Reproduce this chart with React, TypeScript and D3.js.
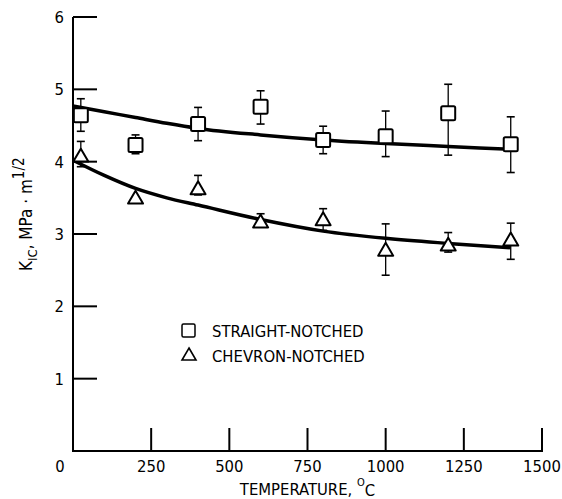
import React, { useRef, useEffect } from 'react';
import * as d3 from 'd3';

// measured points (temperature, C)
const temps = [25, 200, 400, 600, 800, 1000, 1200, 1400];
const straightK = [4.64, 4.23, 4.52, 4.76, 4.3, 4.35, 4.67, 4.24];
const straightHi = [4.87, 4.37, 4.75, 4.98, 4.49, 4.7, 5.07, 4.62];
const straightLo = [4.42, 4.11, 4.29, 4.52, 4.11, 4.07, 4.09, 3.85];
const chevronK = [4.09, 3.51, 3.64, 3.18, 3.21, 2.79, 2.86, 2.93];
const chevronHi = [4.28, 3.51, 3.81, 3.28, 3.35, 3.14, 3.02, 3.15];
const chevronLo = [3.93, 3.51, 3.54, 3.14, 3.05, 2.43, 2.75, 2.65];

// fitted curves
const fitTemps = [0, 100, 200, 300, 400, 600, 800, 1000, 1200, 1400];
const straightFit = [4.77, 4.69, 4.61, 4.53, 4.46, 4.37, 4.3, 4.25, 4.21, 4.17];
const chevronFit = [4.02, 3.81, 3.63, 3.5, 3.4, 3.2, 3.04, 2.94, 2.87, 2.81];

const xTicks = [0, 250, 500, 750, 1000, 1250, 1500];
const yTicks = [1, 2, 3, 4, 5, 6];
const legendLabels = ['STRAIGHT-NOTCHED', 'CHEVRON-NOTCHED'];

const FONT = "'DejaVu Sans Condensed', 'DejaVu Sans', sans-serif";

const App = () => {
  const svgRef = useRef(null);

  useEffect(() => {
    const w = 562;
    const h = 499;
    const svg = d3.select(svgRef.current).attr('width', w).attr('height', h);
    svg.selectAll('*').remove();

    const x = d3.scaleLinear().domain([0, 1500]).range([73, 542]);
    const y = d3.scaleLinear().domain([0, 6]).range([451, 17]);

    const g = svg
      .append('g')
      .style('font-family', FONT)
      .style('font-stretch', 'condensed')
      .style('font-size', '16.5px');

    // axes lines
    g.append('line')
      .attr('x1', x(0)).attr('x2', x(0))
      .attr('y1', y(6)).attr('y2', y(0))
      .attr('stroke', '#000').attr('stroke-width', 2);
    g.append('line')
      .attr('x1', x(0) - 1).attr('x2', x(1500) + 1)
      .attr('y1', y(0)).attr('y2', y(0))
      .attr('stroke', '#000').attr('stroke-width', 2);

    // y ticks (inward)
    g.selectAll('.ytick')
      .data(yTicks)
      .join('line')
      .attr('x1', x(0)).attr('x2', x(0) + 24)
      .attr('y1', (d) => y(d)).attr('y2', (d) => y(d))
      .attr('stroke', '#000').attr('stroke-width', 2);
    g.selectAll('.ylab')
      .data(yTicks)
      .join('text')
      .attr('x', x(0) - 9)
      .attr('y', (d) => y(d))
      .attr('dy', '0.36em')
      .attr('text-anchor', 'end')
      .text((d) => d);

    // x ticks (inward)
    g.selectAll('.xtick')
      .data(xTicks.filter((d) => d > 0))
      .join('line')
      .attr('x1', (d) => x(d)).attr('x2', (d) => x(d))
      .attr('y1', y(0)).attr('y2', y(0) - 23)
      .attr('stroke', '#000').attr('stroke-width', 2);
    g.selectAll('.xlab')
      .data(xTicks)
      .join('text')
      .attr('x', (d) => (d === 0 ? x(d) - 13 : x(d)))
      .attr('y', y(0) + 21)
      .attr('text-anchor', 'middle')
      .text((d) => d);

    // axis titles
    const xt = g.append('text')
      .attr('x', (x(0) + x(1500)) / 2)
      .attr('y', 495)
      .attr('text-anchor', 'middle');
    xt.append('tspan').text('TEMPERATURE, ');
    xt.append('tspan').attr('dy', -9).style('font-size', '11px').text('O');
    xt.append('tspan').attr('dy', 10).text('C');

    const yt = g.append('text')
      .attr('transform', 'translate(32,271) rotate(-90)')
      .attr('text-anchor', 'start')
      .style('font-size', '17px');
    yt.append('tspan').text('K');
    yt.append('tspan').attr('dy', 5).style('font-size', '13px').text('IC');
    yt.append('tspan').attr('dy', -5).text(', MPa · m');
    yt.append('tspan').attr('dy', -8).style('font-size', '15px').text('1/2');

    // fitted curves
    const line = d3.line().x((d) => x(d[0])).y((d) => y(d[1])).curve(d3.curveMonotoneX);
    [straightFit, chevronFit].forEach((fit) => {
      g.append('path')
        .attr('d', line(fitTemps.map((t, i) => [t, fit[i]])))
        .attr('fill', 'none')
        .attr('stroke', '#000')
        .attr('stroke-width', 3.5);
    });

    // error bars
    const drawErr = (hi, lo) => {
      temps.forEach((t, i) => {
        if (hi[i] === lo[i]) return;
        const cx = x(t);
        g.append('line')
          .attr('x1', cx).attr('x2', cx)
          .attr('y1', y(hi[i])).attr('y2', y(lo[i]))
          .attr('stroke', '#000').attr('stroke-width', 1.3);
        [hi[i], lo[i]].forEach((v) => {
          g.append('line')
            .attr('x1', cx - 4).attr('x2', cx + 4)
            .attr('y1', y(v)).attr('y2', y(v))
            .attr('stroke', '#000').attr('stroke-width', 1.6);
        });
      });
    };
    drawErr(straightHi, straightLo);
    drawErr(chevronHi, chevronLo);

    const triPath = (cx, cy, s) =>
      `M${cx},${cy - s * 0.43}L${cx + s / 2},${cy + s * 0.43}L${cx - s / 2},${cy + s * 0.43}Z`;

    // markers
    g.selectAll('.sq')
      .data(temps)
      .join('rect')
      .attr('x', (d) => x(d) - 7)
      .attr('y', (d, i) => y(straightK[i]) - 7)
      .attr('width', 14).attr('height', 14)
      .attr('rx', 1.5)
      .attr('fill', '#fff').attr('stroke', '#000').attr('stroke-width', 2);
    g.selectAll('.tri')
      .data(temps)
      .join('path')
      .attr('d', (d, i) => triPath(x(d), y(chevronK[i]), 15))
      .attr('fill', '#fff').attr('stroke', '#000').attr('stroke-width', 2)
      .attr('stroke-linejoin', 'round');

    // legend
    g.append('rect')
      .attr('x', 182).attr('y', 324).attr('width', 13).attr('height', 13).attr('rx', 1.5)
      .attr('fill', '#fff').attr('stroke', '#000').attr('stroke-width', 1.5);
    g.append('path')
      .attr('d', triPath(189, 354, 14))
      .attr('fill', '#fff').attr('stroke', '#000').attr('stroke-width', 1.6);
    g.selectAll('.leg')
      .data(legendLabels)
      .join('text')
      .attr('x', 212)
      .attr('y', (d, i) => 337 + i * 25)
      .text((d) => d);
  }, []);

  return (
    <div>
      <svg ref={svgRef} style={{ position: 'absolute', left: 0, top: 0, background: '#fff' }}></svg>
    </div>
  );
};

export default App;
